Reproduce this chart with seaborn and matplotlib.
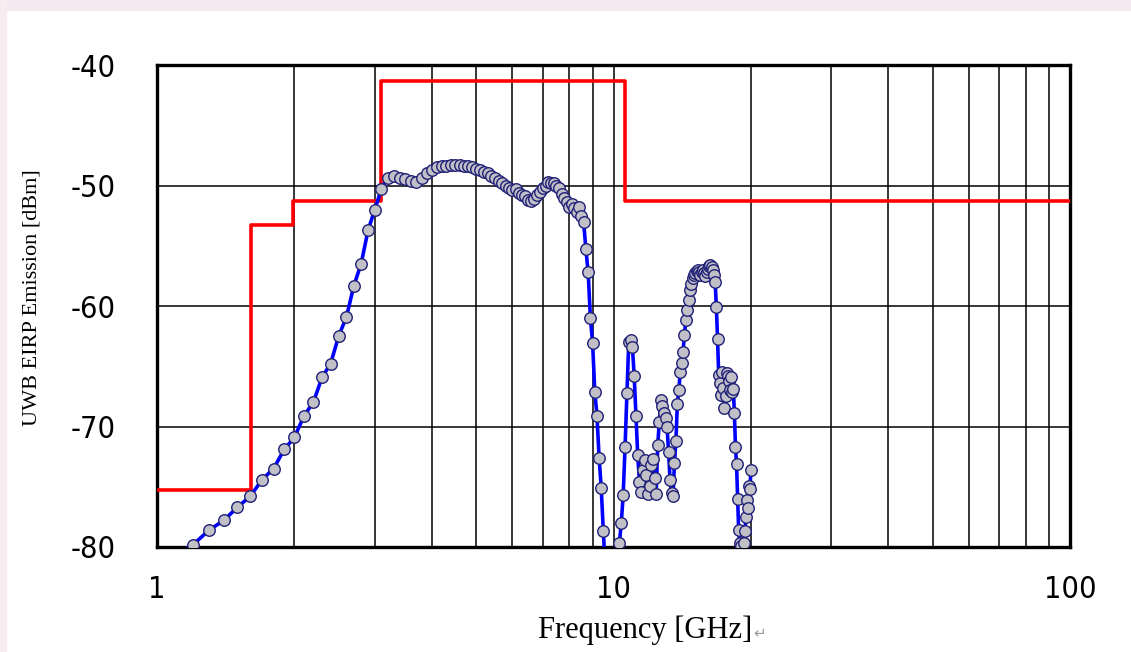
import matplotlib
matplotlib.use("Agg")
import matplotlib.pyplot as plt
import matplotlib.ticker as mticker
from matplotlib.patches import Rectangle
import seaborn as sns

freq_ghz = [
    1.1, 1.2, 1.3, 1.4, 1.5, 1.6, 1.7, 1.8, 1.9, 2.0,
    2.1, 2.2, 2.3, 2.4, 2.5, 2.6, 2.7, 2.8, 2.9, 3.0,
    3.1, 3.2, 3.3, 3.4, 3.5, 3.6, 3.7, 3.8, 3.9, 4.0,
    4.1, 4.2, 4.3, 4.4, 4.5, 4.6, 4.7, 4.8, 4.9, 5.0,
    5.1, 5.2, 5.3, 5.4, 5.5, 5.6, 5.7, 5.8, 5.9, 6.0,
    6.1, 6.2, 6.3, 6.4, 6.5, 6.6, 6.7, 6.8, 6.9, 7.0,
    7.1, 7.2, 7.3, 7.4, 7.5, 7.6, 7.7, 7.8, 7.9, 8.0,
    8.1, 8.2, 8.3, 8.4, 8.5, 8.6, 8.7, 8.8, 8.9, 9.0,
    9.1, 9.2, 9.3, 9.4, 9.5, 9.6, 9.7, 9.8, 9.9, 10.0,
    10.1, 10.2, 10.3, 10.4, 10.5, 10.6, 10.7, 10.8, 10.9, 11.0,
    11.1, 11.2, 11.3, 11.4, 11.5, 11.6, 11.7, 11.8, 11.9, 12.0,
    12.1, 12.2, 12.3, 12.4, 12.5, 12.6, 12.7, 12.8, 12.9, 13.0,
    13.1, 13.2, 13.3, 13.4, 13.5, 13.6, 13.7, 13.8, 13.9, 14.0,
    14.1, 14.2, 14.3, 14.4, 14.5, 14.6, 14.7, 14.8, 14.9, 15.0,
    15.1, 15.2, 15.3, 15.4, 15.5, 15.6, 15.7, 15.8, 15.9, 16.0,
    16.1, 16.2, 16.3, 16.4, 16.5, 16.6, 16.7, 16.8, 16.9, 17.0,
    17.1, 17.2, 17.3, 17.4, 17.5, 17.6, 17.7, 17.8, 17.9, 18.0,
    18.1, 18.2, 18.3, 18.4, 18.5, 18.6, 18.7, 18.8, 18.9, 19.0,
    19.1, 19.2, 19.3, 19.4, 19.5, 19.6, 19.7, 19.8, 19.9, 20.0,
]
emission_dbm = [
    -80.6, -79.8, -78.6, -77.8, -76.7, -75.8, -74.4, -73.5, -71.9, -70.9,
    -69.1, -68.0, -65.9, -64.8, -62.5, -60.9, -58.3, -56.5, -53.7, -52.0,
    -50.3, -49.4, -49.2, -49.4, -49.5, -49.6, -49.7, -49.4, -49.0, -48.7,
    -48.5, -48.4, -48.4, -48.3, -48.3, -48.3, -48.4, -48.4, -48.5, -48.6,
    -48.7, -48.9, -49.0, -49.2, -49.4, -49.6, -49.8, -50.0, -50.2, -50.4,
    -50.3, -50.6, -50.8, -50.9, -51.2, -51.3, -51.1, -50.8, -50.5, -50.2,
    -50.0, -49.7, -49.8, -49.8, -50.0, -50.2, -50.7, -51.0, -51.4, -51.8,
    -51.5, -51.9, -52.2, -51.8, -52.5, -53.0, -55.3, -57.2, -61.0, -63.1,
    -67.1, -69.1, -72.6, -75.1, -78.7, -82.0, -86.0, -89.0, -90.0, -89.0,
    -86.0, -82.0, -79.7, -78.0, -75.7, -71.7, -67.2, -63.0, -62.8, -63.4,
    -65.8, -69.1, -72.4, -74.6, -75.4, -73.6, -72.8, -74.0, -75.6, -74.9,
    -73.2, -72.7, -74.3, -75.6, -71.5, -69.6, -67.8, -68.3, -68.9, -69.3,
    -70.0, -72.1, -74.4, -75.5, -75.8, -73.0, -71.2, -68.1, -67.0, -65.5,
    -64.7, -63.8, -62.4, -61.2, -60.3, -59.5, -58.7, -58.2, -57.7, -57.4,
    -57.3, -57.1, -57.0, -57.2, -57.4, -57.2, -57.0, -57.3, -57.5, -57.2,
    -56.9, -56.7, -56.6, -56.8, -57.0, -57.4, -58.0, -60.1, -62.7, -65.7,
    -66.4, -67.4, -65.5, -66.8, -68.5, -67.5, -65.6, -65.8, -66.2, -67.0,
    -65.9, -67.1, -66.9, -68.9, -71.7, -73.1, -76.0, -78.6, -79.7, -79.9,
    -81.5, -80.6, -79.7, -78.7, -77.5, -76.1, -76.8, -74.9, -75.2, -73.6,
]

# emission limit mask (step edges)
mask_freq_ghz = [1.0, 1.61, 1.99, 3.1, 10.6, 100.0]
mask_dbm = [-75.3, -53.3, -51.3, -41.3, -51.3, -51.3]

x_ticks = [1, 10, 100]
y_ticks = [-80, -70, -60, -50, -40]

sns.set_theme(style="white")
plt.rcParams["font.family"] = ["DejaVu Sans"]

W, H = 1131, 652
fig = plt.figure(figsize=(W / 100, H / 100), dpi=100)
fig.patch.set_facecolor("white")

# faint patterned page border of the original, as plain strips
fig.patches.append(Rectangle((0, 1 - 10 / H), 1, 10 / H, transform=fig.transFigure,
                             color="#f5e8ee", zorder=0))
fig.patches.append(Rectangle((0, 0), 6 / W, 1, transform=fig.transFigure,
                             color="#f7ecf0", zorder=0))

ax = fig.add_axes([157 / W, 1 - 547 / H, (1070 - 157) / W, (547 - 65) / H])

sns.lineplot(x=mask_freq_ghz, y=mask_dbm, ax=ax, color="#ff0000", lw=2.6,
             drawstyle="steps-post", sort=False, estimator=None, zorder=3)
sns.lineplot(x=freq_ghz, y=emission_dbm, ax=ax, color="#0000ff", lw=2.6,
             marker="o", markersize=8.3, markerfacecolor="#c0c0c6",
             markeredgecolor="#202078", markeredgewidth=1.0,
             sort=False, estimator=None, zorder=4)

ax.set_xscale("log")
ax.set_xlim(1, 100)
ax.set_ylim(-80, -40)
ax.set_xticks(x_ticks, labels=[str(t) for t in x_ticks])
ax.xaxis.set_minor_locator(mticker.LogLocator(base=10, subs=range(2, 10)))
ax.xaxis.set_minor_formatter(mticker.NullFormatter())
ax.set_yticks(y_ticks, labels=["-" + str(abs(t)) for t in y_ticks])

ax.set_axisbelow(True)
ax.grid(True, which="both", axis="x", color="black", lw=1.1)
ax.grid(True, which="major", axis="y", color="black", lw=1.1)

ax.tick_params(axis="both", which="both", length=0, labelcolor="black")
ax.tick_params(axis="x", pad=20, labelsize=22)
ax.tick_params(axis="y", pad=30, labelsize=22)
for lab in ax.get_xticklabels() + ax.get_yticklabels():
    lab.set_family(["DejaVu Sans"])
    lab.set_fontstretch("condensed")
    lab.set_fontweight("light")

for sp in ax.spines.values():
    sp.set_color("black")
    sp.set_linewidth(2.4)

ax.set_xlabel("")
ax.set_ylabel("")
serif = ["Liberation Serif", "DejaVu Serif"]
fig.text(32 / W, 1 - 298 / H, "UWB EIRP Emission [dBm]", rotation=90,
         ha="center", va="center", fontsize=16, family=serif, color="black")
fig.text(752 / W, 1 - 630 / H, "Frequency [GHz]", ha="right", va="center",
         fontsize=22, family=serif, color="black")
fig.text(753 / W, 1 - 633 / H, "\u21b5", ha="left", va="center",
         fontsize=11, family=["DejaVu Sans"], color="#9a9a9a")

fig.savefig("out.png", dpi=100)
plt.close(fig)
